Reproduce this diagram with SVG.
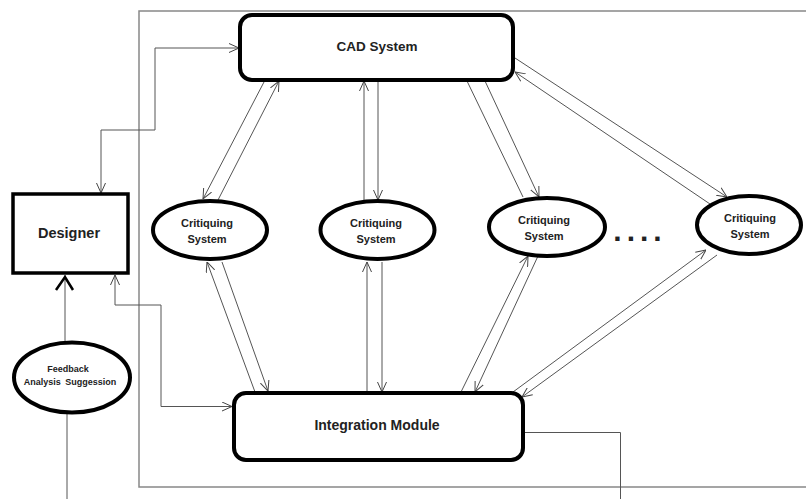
<svg xmlns="http://www.w3.org/2000/svg" width="806" height="499" viewBox="0 0 806 499">
<style>
.box{fill:#fff;stroke:#000;stroke-width:4}
.ell{fill:#fff;stroke:#000;stroke-width:4}
.ln{fill:none;stroke:#555;stroke-width:1}
.frame{fill:none;stroke:#888;stroke-width:1.5}
.t{font-family:"Liberation Sans",Arial,sans-serif;font-weight:bold;fill:#222;text-anchor:middle}
</style>
<defs>
<marker id="ah" viewBox="0 0 10 10" refX="10" refY="5" markerWidth="10" markerHeight="10" markerUnits="userSpaceOnUse" orient="auto-start-reverse">
<path d="M0,0.5 L10,5 L0,9.5" fill="none" stroke="#444" stroke-width="1"/>
</marker>
</defs>
<rect width="806" height="499" fill="#fff"/>
<g id="frame">
<path class="frame" d="M810,11 H139 V487 H810"/>
</g>
<g id="connectors">
<path class="ln" d="M101,193 V130 H155 V48 H239" marker-start="url(#ah)" marker-end="url(#ah)"/>
<path class="ln" d="M232,406.5 H161 V305 H115 V275" marker-start="url(#ah)" marker-end="url(#ah)"/>
<path class="ln" d="M65,342 V275"/>
<path d="M56,290 L65,277 L73,290" fill="none" stroke="#000" stroke-width="2.5"/>
<path class="ln" d="M67,413 V499"/>
<path class="ln" d="M523,432.5 H620.5 V499"/>
<line class="ln" x1="264" y1="82" x2="203" y2="199" marker-end="url(#ah)"/>
<line class="ln" x1="218" y1="200" x2="279" y2="81" marker-end="url(#ah)"/>
<line class="ln" x1="364" y1="200" x2="364" y2="81" marker-end="url(#ah)"/>
<line class="ln" x1="378" y1="81" x2="378" y2="200" marker-end="url(#ah)"/>
<line class="ln" x1="467" y1="81" x2="523" y2="197"/>
<line class="ln" x1="485" y1="81" x2="539" y2="197" marker-end="url(#ah)"/>
<line class="ln" x1="515" y1="58" x2="727" y2="197" marker-end="url(#ah)"/>
<line class="ln" x1="710" y1="204" x2="515" y2="72" marker-end="url(#ah)"/>
<line class="ln" x1="255" y1="392" x2="207" y2="262" marker-end="url(#ah)"/>
<line class="ln" x1="222" y1="262" x2="268" y2="391" marker-end="url(#ah)"/>
<line class="ln" x1="367" y1="392" x2="367" y2="262" marker-end="url(#ah)"/>
<line class="ln" x1="382" y1="262" x2="382" y2="392" marker-end="url(#ah)"/>
<line class="ln" x1="461" y1="392" x2="528" y2="256" marker-end="url(#ah)"/>
<line class="ln" x1="538" y1="256" x2="475" y2="392" marker-end="url(#ah)"/>
<line class="ln" x1="513" y1="392" x2="706" y2="250" marker-end="url(#ah)"/>
<line class="ln" x1="717" y1="255" x2="522" y2="397" marker-end="url(#ah)"/>
</g>
<g id="cad">
<rect class="box" x="240" y="15" width="273" height="65" rx="12"/>
<text class="t" x="377" y="51" font-size="13.5">CAD System</text>
</g>
<g id="integration">
<rect class="box" x="234" y="393" width="289" height="67" rx="12"/>
<text class="t" x="377" y="430" font-size="14">Integration Module</text>
</g>
<g id="designer">
<rect x="13" y="194" width="115" height="79" fill="#fff" stroke="#000" stroke-width="3.5"/>
<text class="t" x="69" y="238" font-size="14.5">Designer</text>
</g>
<g id="feedback">
<ellipse class="ell" cx="72" cy="377.5" rx="58" ry="35"/>
<text class="t" x="68" y="372" font-size="9">Feedback</text>
<text class="t" x="70" y="385" font-size="9" word-spacing="2">Analysis Suggession</text>
</g>
<g id="crit1">
<ellipse class="ell" cx="210" cy="230" rx="57" ry="29"/>
<text class="t" x="207" y="227" font-size="11">Critiquing</text>
<text class="t" x="207" y="243" font-size="11">System</text>
</g>
<g id="crit2">
<ellipse class="ell" cx="377.5" cy="230" rx="57" ry="29"/>
<text class="t" x="376" y="227" font-size="11">Critiquing</text>
<text class="t" x="376" y="243" font-size="11">System</text>
</g>
<g id="crit3">
<ellipse class="ell" cx="547" cy="227" rx="58" ry="29"/>
<text class="t" x="544" y="224" font-size="11">Critiquing</text>
<text class="t" x="544" y="240" font-size="11">System</text>
</g>
<g id="dots">
<text class="t" x="640" y="241" font-size="30" letter-spacing="5">....</text>
</g>
<g id="crit4">
<ellipse class="ell" cx="749" cy="225" rx="52" ry="29"/>
<text class="t" x="750" y="222" font-size="11">Critiquing</text>
<text class="t" x="750" y="238" font-size="11">System</text>
</g>
</svg>
